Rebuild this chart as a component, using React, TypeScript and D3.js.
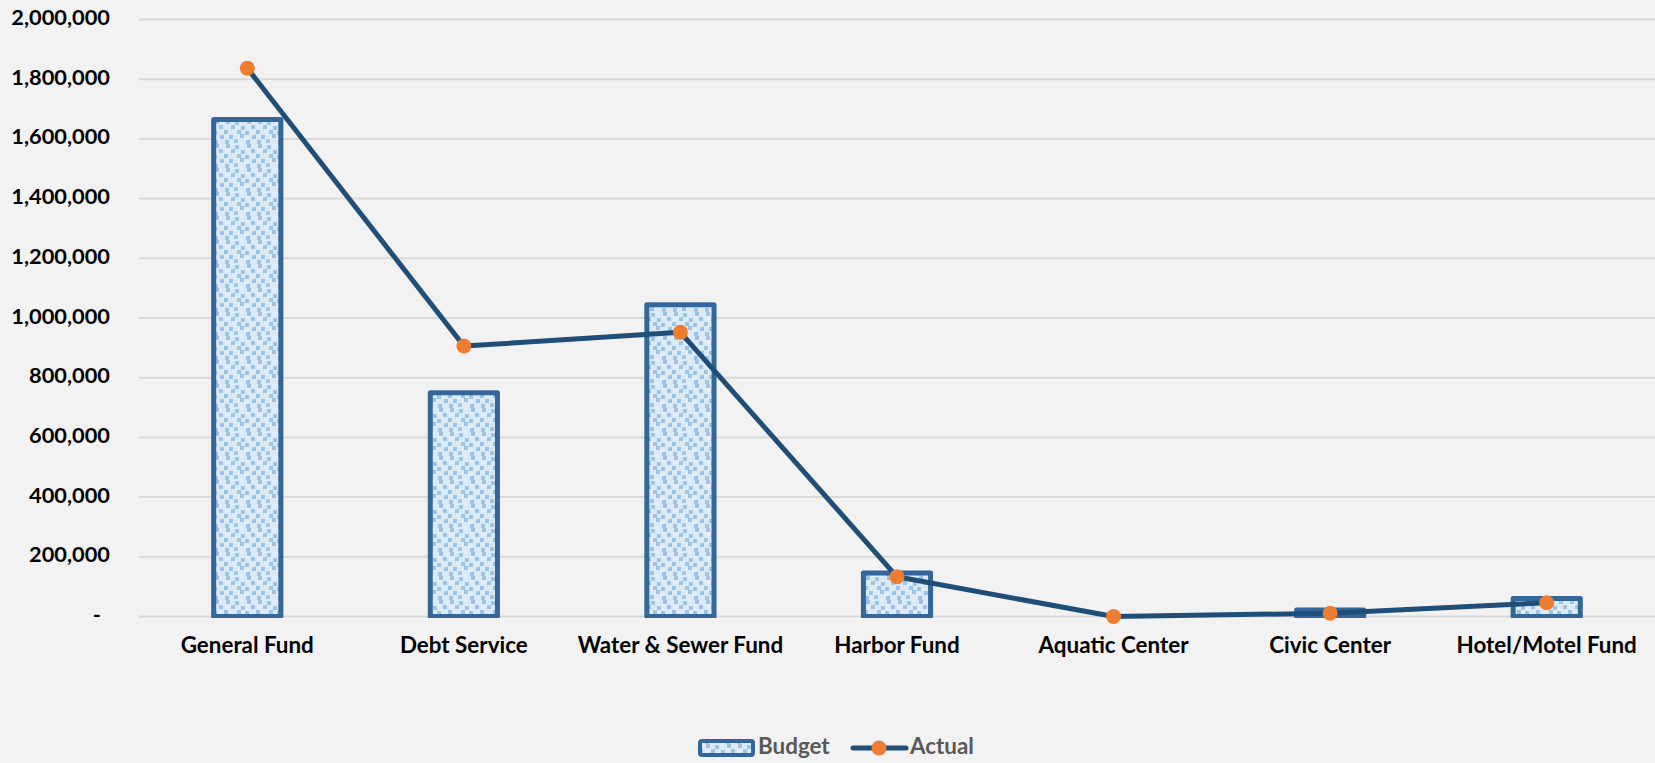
import React from "react";
import * as d3 from "d3";

const categories = ["General Fund", "Debt Service", "Water & Sewer Fund", "Harbor Fund", "Aquatic Center", "Civic Center", "Hotel/Motel Fund"];
const budget = [1665000, 750000, 1044000, 146000, 0, 22000, 60000];
const actual = [1837000, 906000, 952000, 133000, 0, 11000, 46000];
const yTicks = [0, 200000, 400000, 600000, 800000, 1000000, 1200000, 1400000, 1600000, 1800000, 2000000];
const seriesNames = ["Budget", "Actual"];

const W = 1655;
const H = 763;
const left = 139;
const right = 1655;
const top = 19.5;
const bottom = 616.5;
const FONT = "Lato, 'Open Sans', sans-serif";

export default function App() {
  const x = d3.scaleBand<string>().domain(categories).range([left, right]).paddingInner(0).paddingOuter(0);
  const y = d3.scaleLinear().domain([0, 2000000]).range([bottom, top]);
  const bw = x.bandwidth() / 3;
  const fmt = d3.format(",");
  const line = d3
    .line<number>()
    .x((_, i) => (x(categories[i]) as number) + x.bandwidth() / 2)
    .y((d) => y(d));
  const stroke = 5;

  const squares = [
    [2, 0], [11, 1], [23, 0],
    [7, 5], [17, 6], [27, 5],
    [0, 10], [13, 10], [21, 11],
    [5, 15], [16, 14], [28, 15],
    [10, 19], [22, 20], [1, 20],
  ];

  return (
    <div style={{ position: "fixed", left: 0, top: 0, width: W, height: H }}>
      <svg width={W} height={H} style={{ display: "block", background: "#F2F2F2" }}>
        <defs>
          <pattern id="confetti" patternUnits="userSpaceOnUse" width={32} height={24}>
            <rect width={32} height={24} fill="#DDEBF7" />
            {squares.map(([sx, sy], i) => (
              <rect key={i} x={sx} y={sy} width={4} height={4} fill="#9DC3E6" />
            ))}
          </pattern>
          <clipPath id="plotclip">
            <rect x={left} y={0} width={right - left} height={bottom + 1.5} />
          </clipPath>
        </defs>
        {yTicks.map((t) => (
          <line key={t} x1={left} x2={right} y1={y(t)} y2={y(t)} stroke="#D9D9D9" strokeWidth={2} />
        ))}
        {yTicks.map((t) => (
          <text
            key={"l" + t}
            x={t === 0 ? 101 : 110}
            y={y(t)}
            textAnchor="end"
            dominantBaseline="middle"
            fontFamily={FONT}
            fontWeight={700}
            fontSize={21.8}
            fill="#000"
          >
            {t === 0 ? "-" : fmt(t)}
          </text>
        ))}
        <g clipPath="url(#plotclip)">
          {budget.map((v, i) =>
            v > 0 ? (
              <rect
                key={i}
                x={(x(categories[i]) as number) + x.bandwidth() / 2 - bw / 2 + stroke / 2}
                y={y(v)}
                width={bw - stroke}
                height={y(0) - y(v)}
                fill="url(#confetti)"
                stroke="#336699"
                strokeWidth={stroke}
                strokeLinejoin="round"
              />
            ) : null
          )}
        </g>
        <path d={line(actual) as string} fill="none" stroke="#1F4E79" strokeWidth={5} strokeLinejoin="round" strokeLinecap="round" />
        {actual.map((v, i) => (
          <circle key={i} cx={(x(categories[i]) as number) + x.bandwidth() / 2} cy={y(v)} r={7.5} fill="#ED7D31" />
        ))}
        {categories.map((c) => (
          <text
            key={c}
            x={(x(c) as number) + x.bandwidth() / 2}
            y={647}
            textAnchor="middle"
            dominantBaseline="middle"
            fontFamily={FONT}
            fontWeight={700}
            fontSize={22.4}
            fill="#000"
          >
            {c}
          </text>
        ))}
        <rect x={700} y={741} width={53} height={14} rx={2} fill="url(#confetti)" stroke="#336699" strokeWidth={4} />
        <text x={758} y={748} dominantBaseline="middle" fontFamily={FONT} fontWeight={700} fontSize={22.4} fill="#595959">
          {seriesNames[0]}
        </text>
        <line x1={853} x2={906} y1={748} y2={748} stroke="#1F4E79" strokeWidth={5} strokeLinecap="round" />
        <circle cx={879} cy={748} r={7.5} fill="#ED7D31" />
        <text x={910} y={748} dominantBaseline="middle" fontFamily={FONT} fontWeight={700} fontSize={22.4} fill="#595959">
          {seriesNames[1]}
        </text>
      </svg>
    </div>
  );
}
